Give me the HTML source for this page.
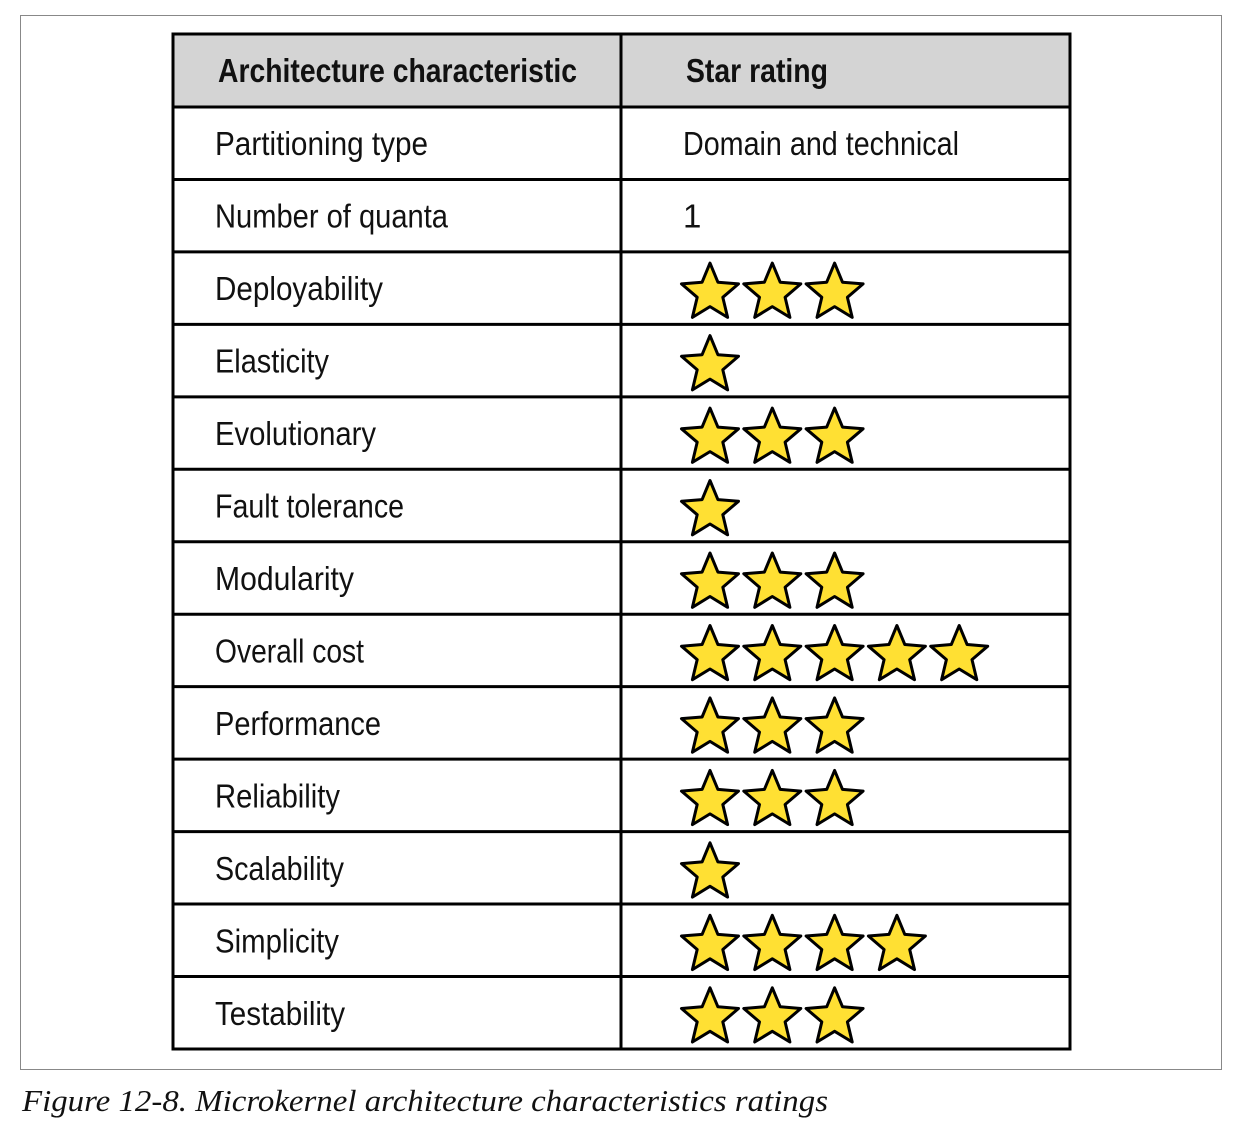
<!DOCTYPE html>
<html><head><meta charset="utf-8"><style>
html,body{margin:0;padding:0;background:#fff;}
svg{display:block;}
</style></head><body>
<svg id="chart" width="1252" height="1134" xmlns="http://www.w3.org/2000/svg">
<rect x="20.5" y="15.5" width="1201" height="1054" fill="#fff" stroke="#888" stroke-width="1"/>
<g id="tbl"></g>
<text x="22" y="1111" font-family="Liberation Serif, serif" font-style="italic" font-size="31" textLength="806" lengthAdjust="spacingAndGlyphs" fill="#111">Figure 12-8. Microkernel architecture characteristics ratings</text>
</svg>
<script>
const characteristics = ["Partitioning type","Number of quanta","Deployability","Elasticity","Evolutionary","Fault tolerance","Modularity","Overall cost","Performance","Reliability","Scalability","Simplicity","Testability"];
const textValues = ["Domain and technical","1",null,null,null,null,null,null,null,null,null,null,null];
const starRatings = [0,0,3,1,3,1,3,5,3,3,1,4,3];
const labelWidths = [213,233,168,114,161,189,139,149,166,125,129,124,130];

const NS="http://www.w3.org/2000/svg";
const g=document.getElementById('tbl');
const L=173,M=621,R=1070,T=34,HH=73,RH=72.46;
function mk(t,a){const e=document.createElementNS(NS,t);for(const k in a)e.setAttribute(k,a[k]);return e;}
const bottom=T+HH+RH*characteristics.length;
const hdr=mk('rect',{x:L,y:T,width:R-L,height:HH,fill:'#d4d4d4'});


g.appendChild(hdr);
function txt(s,x,y,w,bold,name){const a={x:x,y:y,'font-family':'Liberation Sans, sans-serif','font-size':33,'font-weight':bold?'bold':'normal',fill:'#111'};if(w){a.textLength=w;a.lengthAdjust='spacingAndGlyphs';}const e=mk('text',a);e.textContent=s;


g.appendChild(e);}
txt('Architecture characteristic',218,T+48,359,true,'header-characteristic');
txt('Star rating',686,T+48,142,true,'header-star-rating');
function starPath(cx,cy,r){const ri=r*0.45;let p='';for(let i=0;i<10;i++){const rr=i%2?ri:r;const a=-Math.PI/2+i*Math.PI/5;p+=(i?'L':'M')+(cx+rr*Math.cos(a)).toFixed(1)+','+(cy+rr*Math.sin(a)).toFixed(1);}return p+'Z';}
characteristics.forEach((c,i)=>{
  const y0=T+HH+RH*i, mid=y0+RH/2;
  txt(c,215,mid+12,labelWidths[i],false,'label-'+c.toLowerCase().replace(/ /g,'-'));
  if(textValues[i]!==null){
    txt(textValues[i],683,mid+12,textValues[i].length>2?276:0,false,'value-'+c.toLowerCase().replace(/ /g,'-'));
  }
  for(let s=0;s<starRatings[i];s++){
    const st=mk('path',{d:starPath(710+s*62.3,mid+5,30),fill:'#ffe033',stroke:'#000','stroke-width':3,'stroke-linejoin':'round'});
    
    
    g.appendChild(st);
  }
});
for(let i=0;i<=characteristics.length+1;i++){
  const y=i===0?T:T+HH+RH*(i-1);
  g.appendChild(mk('line',{x1:L-1.5,x2:R+1.5,y1:y,y2:y,stroke:'#000','stroke-width':3}));
}
[L,M,R].forEach(x=>g.appendChild(mk('line',{x1:x,x2:x,y1:T,y2:bottom,stroke:'#000','stroke-width':3})));
</script>
</body></html>
